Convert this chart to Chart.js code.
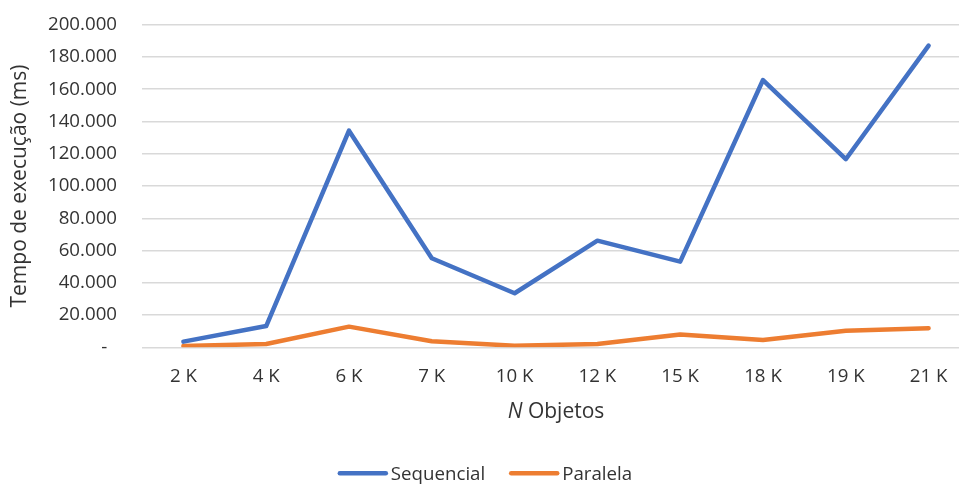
<!DOCTYPE html>
<html lang="pt">
<head>
<meta charset="utf-8">
<script src="https://cdn.jsdelivr.net/npm/chart.js@4"></script>
<style>
  html, body { margin: 0; padding: 0; background: #fff; overflow: hidden; }
  #wrap { width: 970px; height: 484px; position: relative; }
</style>
</head>
<body>
<div id="wrap"><canvas id="chart"></canvas></div>
<script>
// Execution time (ms) per number of objects
const categories = ['2 K', '4 K', '6 K', '7 K', '10 K', '12 K', '15 K', '18 K', '19 K', '21 K'];
const sequencial = [3500, 13200, 134300, 55200, 33500, 66100, 53100, 165700, 116600, 187000];
const paralela = [800, 2000, 12800, 3700, 1000, 2000, 8000, 4500, 10300, 11800];
const yTicks = [0, 20000, 40000, 60000, 80000, 100000, 120000, 140000, 160000, 180000, 200000];

const FONT = "'Open Sans', sans-serif";
const TEXT = '#333333';
const TICK_SIZE = 18.7;
const TITLE_SIZE = 21;

function fmt(v) {
  if (v === 0) return '-  ';
  return String(v).replace(/\B(?=(\d{3})+(?!\d))/g, '.');
}

// X-axis title (italic "N") and a line-style legend below the plot
const annotationsPlugin = {
  id: 'annotations',
  afterDraw(chart) {
    const ctx = chart.ctx;
    const area = chart.chartArea;
    ctx.save();
    ctx.fillStyle = TEXT;
    ctx.textBaseline = 'alphabetic';
    ctx.textAlign = 'left';

    // axis title
    const italic = 'italic ' + TITLE_SIZE + 'px ' + FONT;
    const normal = TITLE_SIZE + 'px ' + FONT;
    ctx.font = italic;
    const w1 = ctx.measureText('N').width;
    ctx.font = normal;
    const w2 = ctx.measureText(' Objetos').width;
    const cx = (area.left + area.right) / 2;
    const ty = area.bottom + 71;
    let x = cx - (w1 + w2) / 2;
    ctx.font = italic;
    ctx.fillText('N', x, ty);
    ctx.font = normal;
    ctx.fillText(' Objetos', x + w1, ty);

    // legend
    const lineLen = 50, gap = 3, itemGap = 24;
    ctx.font = TICK_SIZE + 'px ' + FONT;
    const items = chart.data.datasets.map(ds => ({
      label: ds.label, color: ds.borderColor, w: ctx.measureText(ds.label).width
    }));
    const total = items.reduce((s, it) => s + lineLen + gap + it.w, 0) + itemGap * (items.length - 1);
    const ly = area.bottom + 126;
    x = chart.width / 2 - total / 2;
    items.forEach(it => {
      ctx.strokeStyle = it.color;
      ctx.lineWidth = 4.5;
      ctx.lineCap = 'round';
      ctx.beginPath();
      ctx.moveTo(x + 2, ly);
      ctx.lineTo(x + lineLen - 2, ly);
      ctx.stroke();
      ctx.fillText(it.label, x + lineLen + gap, ly + 0.357 * TICK_SIZE);
      x += lineLen + gap + it.w + itemGap;
    });
    ctx.restore();
  }
};

new Chart(document.getElementById('chart'), {
  type: 'line',
  data: {
    labels: categories,
    datasets: [
      { label: 'Sequencial', data: sequencial, borderColor: '#4472C4', backgroundColor: '#4472C4' },
      { label: 'Paralela', data: paralela, borderColor: '#ED7D31', backgroundColor: '#ED7D31' }
    ]
  },
  options: {
    responsive: true,
    maintainAspectRatio: false,
    animation: false,
    layout: { padding: { top: 24.7, left: 0, right: 0, bottom: 0 } },
    elements: {
      line: { borderWidth: 4.5, tension: 0, borderJoinStyle: 'round', borderCapStyle: 'round' },
      point: { radius: 0, hoverRadius: 0 }
    },
    plugins: {
      legend: { display: false },
      tooltip: { enabled: false }
    },
    scales: {
      x: {
        offset: true,
        afterFit(scale) { scale.height = 136.7; },
        grid: { display: false, drawTicks: false },
        border: { display: false },
        ticks: { font: { family: FONT, size: TICK_SIZE }, color: TEXT, padding: 18 }
      },
      y: {
        min: 0,
        max: 200000,
        afterBuildTicks(scale) { scale.ticks = yTicks.map(v => ({ value: v })); },
        afterFit(scale) {
          scale.width = 142;
          scale.paddingTop = 11;
          scale.paddingBottom = 11;
        },
        grid: { color: '#d9d9d9', lineWidth: 1.5, drawTicks: false },
        border: { display: false },
        ticks: { font: { family: FONT, size: TICK_SIZE }, color: TEXT, padding: 25, callback: v => fmt(v) },
        title: {
          display: true,
          text: 'Tempo de execução (ms)',
          color: TEXT,
          font: { family: FONT, size: TITLE_SIZE },
          padding: { top: 7.4, bottom: 0 }
        }
      }
    }
  },
  plugins: [annotationsPlugin]
});
</script>
</body>
</html>
